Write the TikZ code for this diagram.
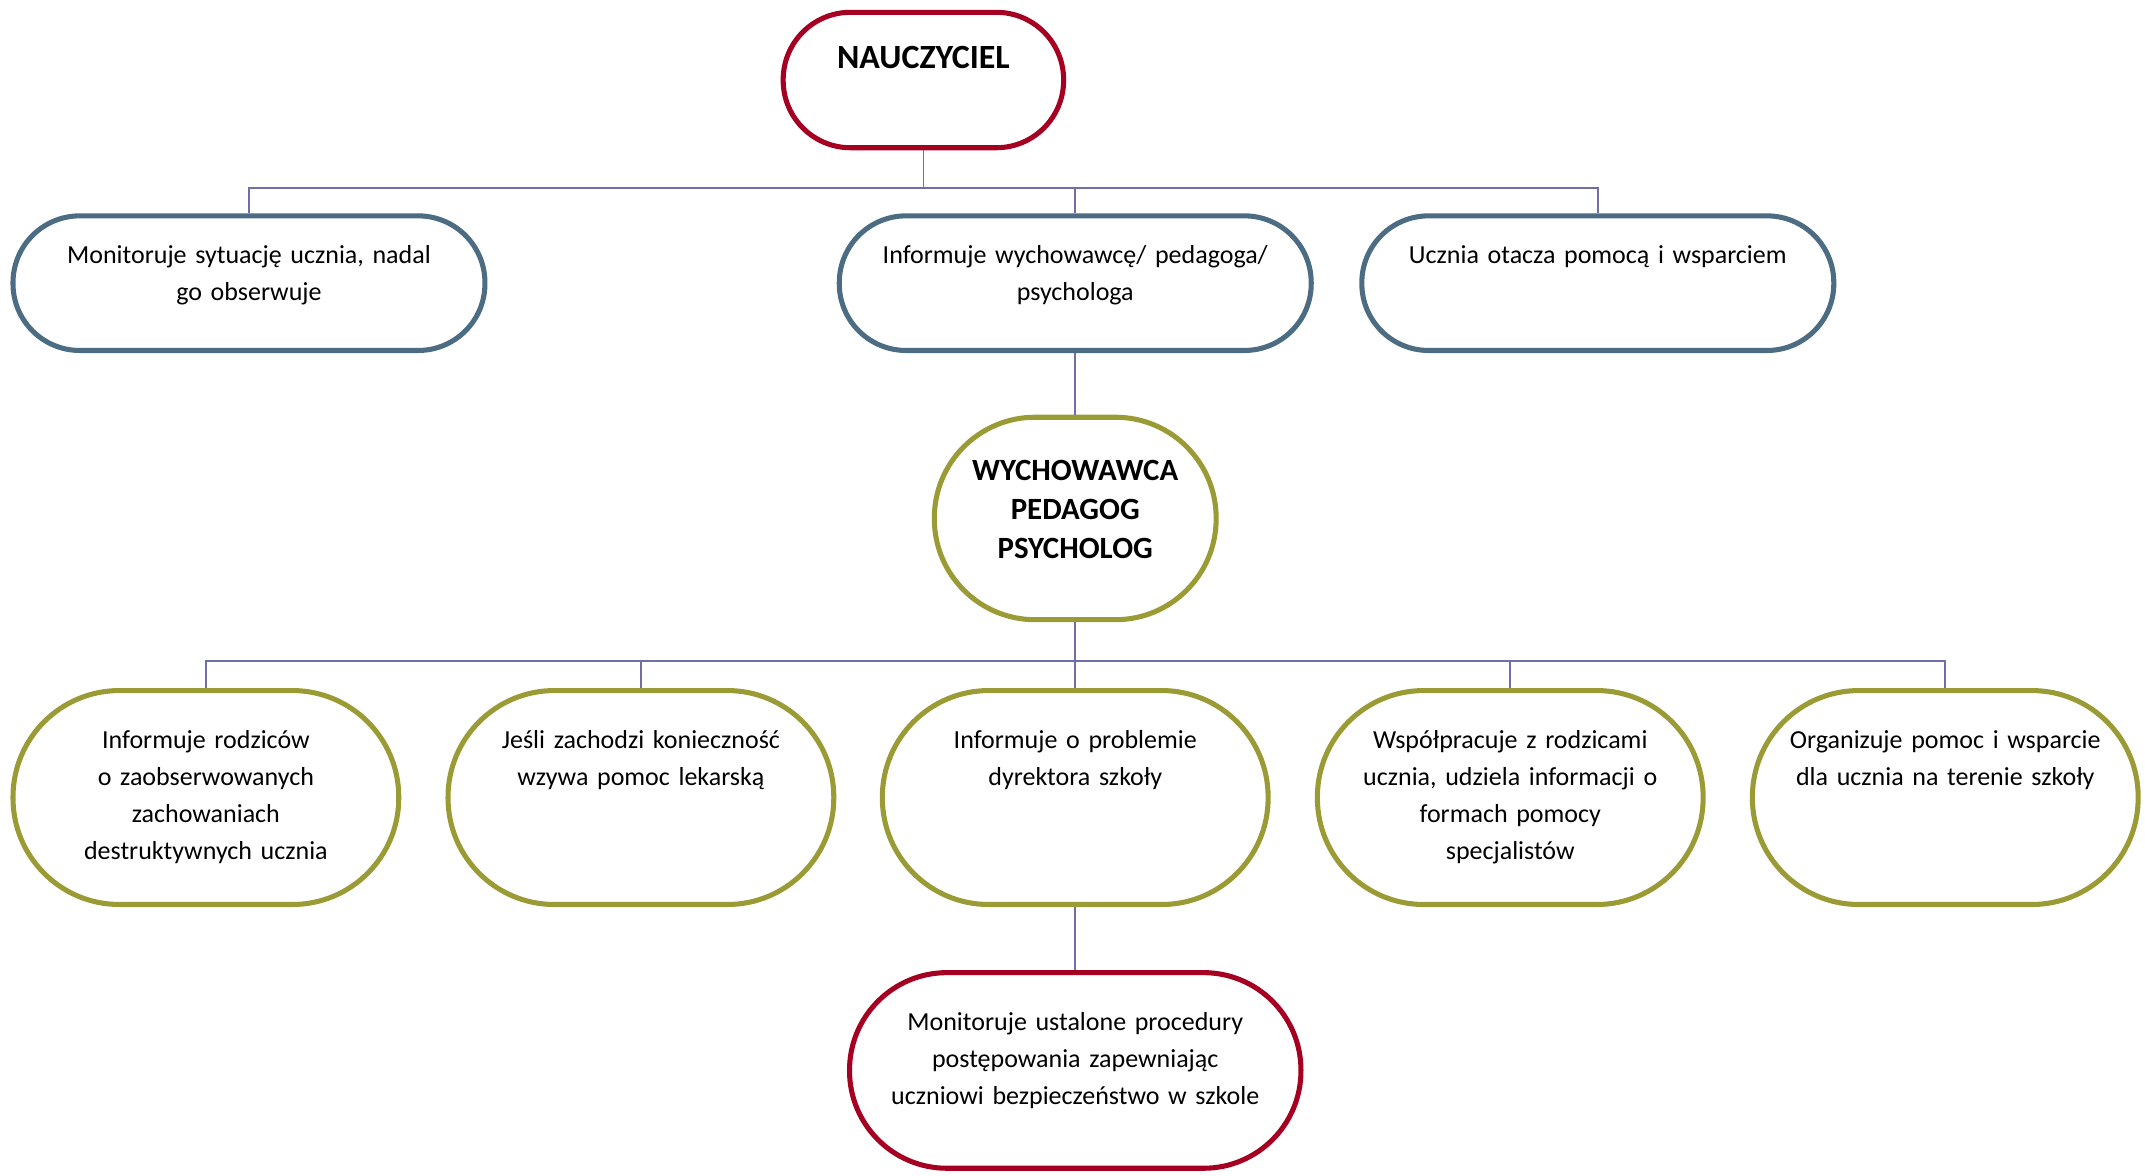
\documentclass[tikz,border=0pt]{standalone}
\usepackage{fontspec}
\setmainfont{Carlito}
\definecolor{cred}{HTML}{A50021}
\definecolor{cblue}{HTML}{4B6C82}
\definecolor{colive}{HTML}{9B9B36}
\definecolor{cline}{HTML}{6E6EA8}
\begin{document}
\begin{tikzpicture}[x=0.5pt,y=-0.5pt,
  boxbase/.style={draw, line width=1.85pt, fill=white, inner sep=0pt, shape=rectangle},
  redbox/.style={boxbase, draw=cred},
  bluebox/.style={boxbase, draw=cblue, minimum width=172.5pt, minimum height=49.2pt, rounded corners=24.4pt},
  olivebox/.style={boxbase, draw=colive},
  rowfour/.style={olivebox, minimum width=141pt, minimum height=78.2pt, rounded corners=38.9pt},
  conn/.style={draw=cline, line width=0.65pt},
  txt/.style={anchor=base, align=center, text width=180pt, inner sep=0pt, font=\fontsize{9.5}{13.6}\selectfont},
  ttl/.style={anchor=base, align=center, text width=120pt, inner sep=0pt, font=\bfseries\fontsize{11.3}{14.15}\selectfont}
]
\useasboundingbox (0,0) rectangle (1568,859.66);

% bus junctions
\coordinate (bus1) at (675,137.5);
\coordinate (bus2) at (786,483.2);

% boxes
\node[redbox, minimum width=102.5pt, minimum height=49.5pt, rounded corners=24.6pt] (n) at (675,58.5) {};
\node[bluebox] (b1) at (182,207) {};
\node[bluebox] (b2) at (786,207) {};
\node[bluebox] (b3) at (1168,207) {};
\node[olivebox, minimum width=103pt, minimum height=74pt, rounded corners=36.8pt] (w) at (786,379) {};
\node[rowfour] (c1) at (150.5,583) {};
\node[rowfour] (c2) at (468.5,583) {};
\node[rowfour] (c3) at (786,583) {};
\node[rowfour] (c4) at (1104,583) {};
\node[rowfour] (c5) at (1422,583) {};
\node[redbox, minimum width=165pt, minimum height=71.5pt, rounded corners=35.6pt] (d) at (786,782.5) {};

% connectors
\draw[conn] (n.south) -- (bus1);
\draw[conn] (bus1) -| (b1.north);
\draw[conn] (bus1) -| (b2.north);
\draw[conn] (bus1) -| (b3.north);
\draw[conn] (b2.south) -- (w.north);
\draw[conn] (w.south) -- (bus2);
\draw[conn] (bus2) -| (c1.north);
\draw[conn] (bus2) -| (c2.north);
\draw[conn] (bus2) -| (c3.north);
\draw[conn] (bus2) -| (c4.north);
\draw[conn] (bus2) -| (c5.north);
\draw[conn] (c3.south) -- (d.north);

% texts
\node[anchor=base, inner sep=0pt, font=\bfseries\fontsize{12.4}{15}\selectfont] (nt) at (675,50) {NAUCZYCIEL};
\node[txt] (b1t) at (182,192.5) {Monitoruje sytuację ucznia, nadal\\go obserwuje};
\node[txt] (b2t) at (786,192.5) {Informuje wychowawcę/ pedagoga/\\psychologa};
\node[txt] (b3t) at (1168,192.5) {Ucznia otacza pomocą i wsparciem};
\node[ttl] (wt) at (786,351.6) {WYCHOWAWCA\\PEDAGOG\\PSYCHOLOG};
\node[txt] (c1t) at (150.5,547) {Informuje rodziców\\o zaobserwowanych\\zachowaniach\\destruktywnych ucznia};
\node[txt] (c2t) at (468.5,547) {Jeśli zachodzi konieczność\\wzywa pomoc lekarską};
\node[txt] (c3t) at (786,547) {Informuje o problemie\\dyrektora szkoły};
\node[txt] (c4t) at (1104,547) {Współpracuje z rodzicami\\ucznia, udziela informacji o\\formach pomocy\\specjalistów};
\node[txt] (c5t) at (1422,547) {Organizuje pomoc i wsparcie\\dla ucznia na terenie szkoły};
\node[txt] (dt) at (786,753) {Monitoruje ustalone procedury\\postępowania zapewniając\\uczniowi bezpieczeństwo w szkole};
\end{tikzpicture}
\end{document}
